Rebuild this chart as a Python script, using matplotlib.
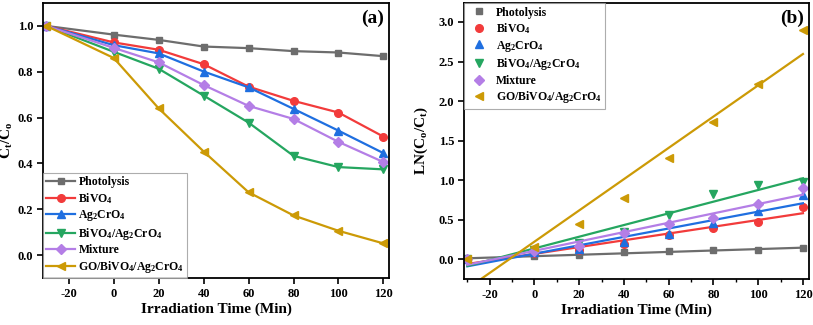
"""
Photocatalytic degradation (a) and first-order kinetics (b)
"""
import matplotlib
matplotlib.use('Agg')
import matplotlib.pyplot as plt
from matplotlib.ticker import MultipleLocator
import numpy as np

# data
time = [-30, 0, 20, 40, 60, 80, 100, 120]
labels = ['Photolysis', r'BiVO$_\mathbf{4}$', r'Ag$_\mathbf{2}$CrO$_\mathbf{4}$',
          r'BiVO$_\mathbf{4}$/Ag$_\mathbf{2}$CrO$_\mathbf{4}$', 'Mixture',
          r'GO/BiVO$_\mathbf{4}$/Ag$_\mathbf{2}$CrO$_\mathbf{4}$']

# C/C0
photolysis = [1.0, 0.962, 0.939, 0.910, 0.903, 0.890, 0.884, 0.868]
bivo4 = [1.0, 0.928, 0.896, 0.833, 0.735, 0.673, 0.622, 0.517]
ag2cro4 = [1.0, 0.916, 0.880, 0.801, 0.732, 0.638, 0.543, 0.445]
composite = [1.0, 0.887, 0.813, 0.696, 0.578, 0.433, 0.384, 0.374]
mixture = [1.0, 0.904, 0.841, 0.742, 0.651, 0.594, 0.494, 0.406]
go_comp = [1.0, 0.860, 0.640, 0.452, 0.274, 0.173, 0.106, 0.051]

# LN(C0/Ct)
ln_photolysis = [0.0, 0.04, 0.058, 0.088, 0.10, 0.113, 0.12, 0.14]
ln_bivo4 = [0.0, 0.075, 0.117, 0.19, 0.307, 0.395, 0.475, 0.657]
ln_ag2cro4 = [0.0, 0.087, 0.13, 0.215, 0.32, 0.458, 0.614, 0.81]
ln_composite = [0.0, 0.12, 0.207, 0.35, 0.56, 0.82, 0.94, 0.98]
ln_mixture = [0.0, 0.10, 0.173, 0.33, 0.44, 0.52, 0.70, 0.896]
ln_go = [0.0, 0.15, 0.44, 0.78, 1.28, 1.73, 2.21, 2.90]

colors = ['#6d6d6d', '#f23b3b', '#1f6fe0', '#25a660', '#b47ee6', '#cc9a06']
markers = ['s', 'o', '^', 'v', 'D', '<']
msizes = [5, 5.5, 6, 6, 5, 6]

plt.rcParams['font.family'] = 'Liberation Serif'
plt.rcParams['font.weight'] = 'bold'
plt.rcParams['axes.labelweight'] = 'bold'
plt.rcParams['axes.unicode_minus'] = False
plt.rcParams['mathtext.fontset'] = 'custom'
plt.rcParams['mathtext.rm'] = 'Liberation Serif:bold'
plt.rcParams['mathtext.bf'] = 'Liberation Serif:bold'
plt.rcParams['mathtext.it'] = 'Liberation Serif:bold:italic'

fig = plt.figure(figsize=(8.13, 3.25), dpi=100)
ax1 = fig.add_axes([43 / 813, 1 - 278 / 325, 346 / 813, 275 / 325])
ax2 = fig.add_axes([464 / 813, 1 - 279 / 325, 345 / 813, 276 / 325])

# (a) degradation curves
series = [photolysis, bivo4, ag2cro4, composite, mixture, go_comp]
for y, lab, c, m, ms in zip(series, labels, colors, markers, msizes):
    ax1.plot(time, y, color=c, marker=m, ms=ms, lw=1.6, label=lab)
ax1.set_xlim(-31.5, 122.5)
ax1.set_ylim(-0.1, 1.1)
ax1.xaxis.set_major_locator(MultipleLocator(20))
ax1.yaxis.set_major_locator(MultipleLocator(0.2))
ax1.set_ylabel(r'C$_\mathbf{t}$/C$_\mathbf{o}$', fontsize=11)
ax1.yaxis.set_label_coords(-28 / 346, 0.5)
ax1.text(0.985, 0.975, '(a)', transform=ax1.transAxes, ha='right', va='top',
         fontsize=14, fontweight='bold')
leg1 = ax1.legend(loc='lower left', fontsize=8.5, borderaxespad=0, borderpad=0.25,
                  handlelength=2.5, handletextpad=0.25, labelspacing=0.22,
                  fancybox=False, edgecolor='#999999')
leg1.get_frame().set_linewidth(0.8)

# (b) kinetics: scatter + least-squares lines
ln_series = [ln_photolysis, ln_bivo4, ln_ag2cro4, ln_composite, ln_mixture, ln_go]
tt = np.array(time)
for y, lab, c, m, ms in zip(ln_series, labels, colors, markers, msizes):
    ax2.plot(time, y, ls='none', color=c, marker=m, ms=ms, label=lab)
    k, b = np.polyfit(tt, y, 1)
    ax2.plot([tt[0], tt[-1]], [k * tt[0] + b, k * tt[-1] + b], color=c, lw=1.6)
ax2.set_xlim(-31.5, 122.7)
ax2.set_ylim(-0.25, 3.24)
ax2.xaxis.set_major_locator(MultipleLocator(20))
ax2.xaxis.set_minor_locator(MultipleLocator(10))
ax2.yaxis.set_major_locator(MultipleLocator(0.5))
ax2.set_ylabel(r'LN(C$_\mathbf{o}$/C$_\mathbf{t}$)', fontsize=11)
ax2.yaxis.set_label_coords(-34 / 345, 0.5)
ax2.text(0.985, 0.975, '(b)', transform=ax2.transAxes, ha='right', va='top',
         fontsize=14, fontweight='bold')
leg2 = ax2.legend(loc='upper left', fontsize=8.5, borderaxespad=0, borderpad=0.3,
                  handletextpad=0.4, labelspacing=0.22, fancybox=False, edgecolor='#999999')
leg2.get_frame().set_linewidth(0.8)

for ax in (ax1, ax2):
    ax.set_xlabel('Irradiation Time (Min)', fontsize=11, labelpad=2)
    ax.tick_params(direction='out', length=4, width=1.2, labelsize=9, pad=3)
    ax.tick_params(which='minor', direction='out', length=2.5, width=1)
    for sp in ax.spines.values():
        sp.set_linewidth(1.3)

# make sure tick labels end up bold
fig.canvas.draw()
for ax in (ax1, ax2):
    for t in ax.get_xticklabels() + ax.get_yticklabels():
        t.set_fontweight('bold')
        t.set_fontfamily('Liberation Serif')

fig.savefig('out.png', dpi=100)
